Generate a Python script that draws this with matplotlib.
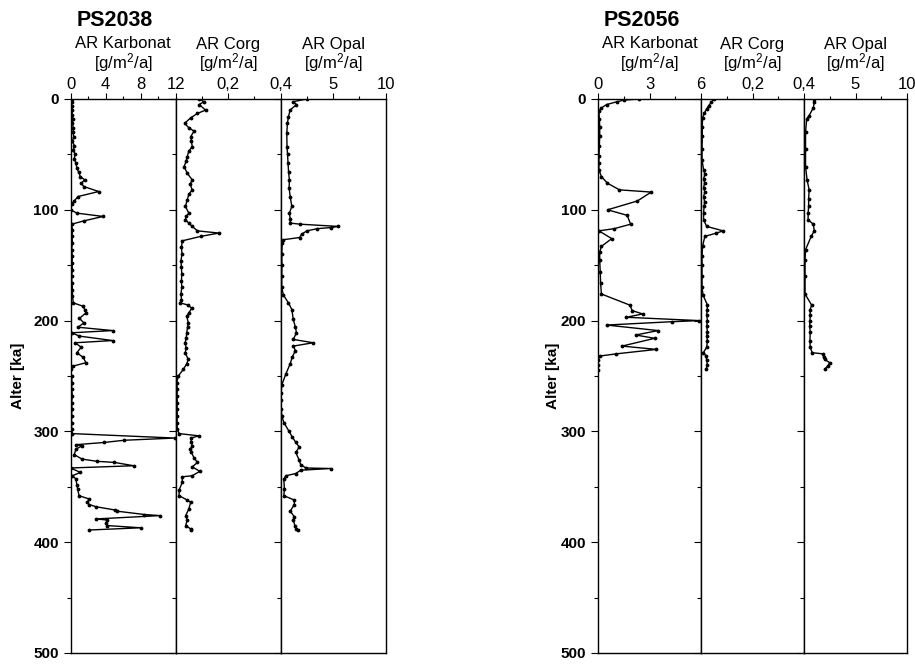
import matplotlib
matplotlib.use('Agg')
import matplotlib.pyplot as plt
import numpy as np

plt.rcParams['font.family'] = ['Liberation Sans', 'DejaVu Sans']
plt.rcParams['mathtext.default'] = 'regular'

# PS2038 - Alter [ka] und Akkumulationsraten
ps2038_karb_depth = [0, 3, 6, 10, 14, 18, 22, 26, 30, 34, 38, 42, 46, 50, 54, 58, 62, 66, 70, 73, 76, 79, 83.5, 88, 92, 95,
                     100, 103, 106, 110, 113, 118, 124, 130, 136, 142, 148, 154, 160, 166, 172, 178, 184, 187, 190, 193,
                     198, 202, 206, 209, 211, 214, 218, 220, 224, 229, 233, 238, 241, 244, 250, 256, 262, 268, 274, 280,
                     286, 292, 298, 302, 306, 308, 310, 312, 313, 316, 321, 325, 327, 328, 331, 333, 337, 340, 343, 348,
                     352, 358, 361, 364, 366, 368, 371, 372, 375, 376, 379, 380, 383, 385, 387, 389]
ps2038_karb = [0.1, 0.15, 0.1, 0.2, 0.15, 0.25, 0.2, 0.3, 0.25, 0.35, 0.2, 0.4, 0.3, 0.5, 0.4, 0.6, 0.7, 0.9, 1.1, 1.6, 1.2,
               1.5, 3.2, 0.85, 0.4, 0.1, 0.0, 0.7, 3.7, 1.5, 0.1, 0.2, 0.15, 0.2, 0.1, 0.2, 0.15, 0.2, 0.1, 0.15, 0.2, 0.2,
               0.3, 1.4, 1.6, 1.75, 1.0, 1.5, 0.85, 4.8, 0.1, 1.0, 4.8, 0.5, 1.2, 0.7, 1.4, 1.75, 0.3, 0.0, 0.1, 0.15,
               0.1, 0.2, 0.1, 0.15, 0.1, 0.1, 0.1, 0.2, 11.9, 6.1, 3.8, 0.6, 1.3, 0.6, 0.4, 1.3, 3.0, 5.0, 7.2, 0.0, 1.1,
               0.2, 0.6, 0.7, 0.8, 0.95, 2.1, 1.9, 2.1, 2.9, 5.1, 5.3, 8.4, 10.2, 2.9, 4.2, 4.0, 4.2, 8.0, 2.1]

ps2038_corg_depth = [0, 2.4, 5, 10, 13, 17, 22, 26, 29, 34, 38, 43, 47, 52, 56, 61, 67, 73, 77, 82, 86, 91, 97, 103, 106,
                     109, 112, 115, 119, 121, 124, 128, 134, 140, 146, 152, 158, 164, 170, 176, 181, 184, 186, 189, 193,
                     196, 202, 206, 211, 216, 220, 225, 229, 235, 239, 244, 250, 256, 262, 268, 274, 280, 286, 292, 298,
                     302, 304, 306, 310, 313, 316, 319, 324, 328, 332, 336, 340, 341, 346, 353, 358, 362, 364, 370, 376,
                     380, 385, 388, 389]
ps2038_corg = [0.089, 0.108, 0.089, 0.114, 0.083, 0.057, 0.034, 0.05, 0.07, 0.057, 0.06, 0.063, 0.05, 0.044, 0.04, 0.032,
               0.044, 0.063, 0.055, 0.063, 0.05, 0.044, 0.037, 0.05, 0.04, 0.037, 0.05, 0.063, 0.083, 0.165, 0.095, 0.025,
               0.022, 0.024, 0.02, 0.022, 0.023, 0.022, 0.023, 0.02, 0.022, 0.017, 0.048, 0.061, 0.05, 0.042, 0.048,
               0.045, 0.042, 0.04, 0.036, 0.04, 0.036, 0.048, 0.042, 0.029, 0.01, 0.004, 0.006, 0.005, 0.006, 0.005,
               0.006, 0.005, 0.006, 0.013, 0.089, 0.057, 0.06, 0.063, 0.055, 0.06, 0.07, 0.083, 0.063, 0.092, 0.063,
               0.025, 0.025, 0.013, 0.013, 0.044, 0.057, 0.05, 0.038, 0.044, 0.038, 0.057, 0.057]

ps2038_opal_depth = [0, 2.4, 5, 10, 16, 22, 31, 43, 50, 58, 66, 73, 80, 88, 97, 103, 108, 112, 113, 115, 116, 117, 119,
                     122, 125, 127, 130, 140, 150, 160, 170, 177, 184, 190, 199, 206, 211, 217, 220, 223, 227, 233, 239,
                     248, 258, 265, 272, 280, 286, 292, 300, 305, 310, 314, 319, 326, 330, 333, 333.5, 335, 338, 340, 343,
                     352, 358, 362, 366, 372, 377, 380, 385, 388, 389]
ps2038_opal = [2.5, 1.2, 1.5, 0.9, 0.74, 0.64, 0.58, 0.6, 0.65, 0.7, 0.75, 0.83, 0.8, 0.9, 1.06, 0.83, 0.9, 0.9, 1.86, 5.5,
               4.8, 3.5, 2.5, 2.0, 1.8, 0.26, 0.15, 0.1, 0.12, 0.1, 0.1, 0.26, 0.74, 1.06, 1.2, 1.4, 1.5, 1.2, 3.1, 1.2,
               1.4, 1.1, 0.9, 0.5, 0.1, 0.05, 0.05, 0.05, 0.1, 0.3, 0.8, 1.1, 1.44, 1.76, 1.44, 1.76, 1.9, 2.4, 4.8, 1.9,
               1.44, 0.5, 0.3, 0.35, 0.3, 1.3, 1.3, 0.9, 1.3, 1.2, 1.35, 1.5, 1.6]

# PS2056
ps2056_karb_depth = [0, 1, 2.5, 5, 8, 11, 18, 25, 33, 42, 51, 58, 64, 70, 76, 82, 84, 92, 100, 105, 113, 117, 119, 126,
                     133, 138, 145, 156, 166, 176, 186, 191, 194, 197, 200, 201, 204, 209, 213, 216, 223, 226, 230, 232,
                     236, 240, 245]
ps2056_karb = [2.4, 1.5, 1.1, 0.5, 0.2, 0.05, 0.08, 0.1, 0.1, 0.08, 0.06, 0.05, 0.05, 0.2, 0.55, 1.25, 3.1, 2.3, 0.56,
               1.7, 1.9, 0.95, 0.05, 0.8, 0.2, 0.1, 0.1, 0.13, 0.15, 0.2, 1.85, 2.0, 2.6, 1.65, 5.9, 4.3, 0.5, 3.5, 2.2,
               3.3, 1.4, 3.4, 1.07, 0.1, 0.0, 0.0, 0.0]

ps2056_corg_depth = [0, 3, 6, 9, 13, 17, 25, 33, 45, 55, 64, 68, 72, 76, 80, 84, 88, 93, 97, 103, 109, 115, 119, 121, 124,
                     133, 142, 150, 160, 170, 177, 186, 190, 195, 200, 205, 210, 214, 218, 224, 229, 232, 236, 240, 244]
ps2056_corg = [0.05, 0.04, 0.03, 0.022, 0.012, 0.006, 0.005, 0.005, 0.004, 0.004, 0.01, 0.015, 0.01, 0.014, 0.01, 0.015,
               0.01, 0.014, 0.012, 0.01, 0.01, 0.022, 0.086, 0.06, 0.015, 0.006, 0.004, 0.004, 0.004, 0.004, 0.008,
               0.025, 0.024, 0.022, 0.025, 0.022, 0.025, 0.022, 0.025, 0.022, 0.009, 0.02, 0.022, 0.025, 0.02]

ps2056_opal_depth = [0, 3, 8, 15, 18, 30, 45, 61, 73, 82, 90, 97, 103, 109, 113, 119, 124, 136, 145, 160, 176, 186, 190,
                     195, 200, 205, 210, 218, 224, 229, 230, 233, 235, 238, 241, 244]
ps2056_opal = [0.96, 1.0, 0.9, 0.5, 0.26, 0.15, 0.15, 0.15, 0.3, 0.5, 0.45, 0.45, 0.4, 0.4, 0.9, 1.0, 0.7, 0.15, 0.1, 0.1,
               0.1, 0.74, 0.6, 0.6, 0.58, 0.55, 0.6, 0.58, 0.6, 0.8, 1.85, 1.9, 2.0, 2.5, 2.3, 2.0]

y_major = [0, 100, 200, 300, 400, 500]
y_minor = [50, 150, 250, 350, 450]


def draw_panel(ax, depth, vals, xmax, major, labels, minor, first):
    ax.plot(vals, depth, color='black', lw=1.0, marker='.', ms=3.5)
    ax.set_xlim(0, xmax)
    ax.set_ylim(500, 0)
    ax.xaxis.tick_top()
    ax.set_xticks(major)
    ax.set_xticklabels(labels)
    ax.set_xticks(minor, minor=True)
    ax.set_yticks(y_major)
    ax.set_yticks(y_minor, minor=True)
    ax.tick_params(axis='x', which='major', length=4, width=0.8, pad=1, labelsize=12)
    ax.tick_params(axis='x', which='minor', length=2, width=0.8)
    ax.tick_params(axis='y', which='major', length=5, width=0.8, labelsize=11)
    ax.tick_params(axis='y', which='minor', length=3, width=0.8)
    if first:
        for t in ax.get_yticklabels():
            t.set_fontweight('bold')
    else:
        ax.set_yticklabels([])
    for s in ax.spines.values():
        s.set_linewidth(1.0)


fig = plt.figure(figsize=(9.15, 6.65), dpi=100)

groups = [
    ('PS2038', 70.7, 105.0,
     [(ps2038_karb_depth, ps2038_karb, 12, [0, 4, 8, 12], ['0', '4', '8', '12'], [2, 6, 10]),
      (ps2038_corg_depth, ps2038_corg, 0.4, [0.2, 0.4], ['0,2', '0,4'], [0.1, 0.3]),
      (ps2038_opal_depth, ps2038_opal, 10, [5, 10], ['5', '10'], [2.5, 7.5])], 18),
    ('PS2056', 598.0, 103.0,
     [(ps2056_karb_depth, ps2056_karb, 6, [0, 3, 6], ['0', '3', '6'], [1.5, 4.5]),
      (ps2056_corg_depth, ps2056_corg, 0.4, [0.2, 0.4], ['0,2', '0,4'], [0.1, 0.3]),
      (ps2056_opal_depth, ps2056_opal, 10, [5, 10], ['5', '10'], [2.5, 7.5])], 553),
]
names = ['AR Karbonat', 'AR Corg', 'AR Opal']

W, H = 915.0, 665.0
top_px, bot_px = 99.0, 653.0

for title, x0, pw, panels, ylab_x in groups:
    for i, (d, v, xmax, major, labels, minor) in enumerate(panels):
        left = (x0 + i * pw) / W
        ax = fig.add_axes([left, 1 - bot_px / H, pw / W, (bot_px - top_px) / H])
        draw_panel(ax, d, v, xmax, major, labels, minor, i == 0)
        cx = (x0 + (i + 0.5) * pw) / W
        fig.text(cx, 1 - 44 / H, names[i], ha='center', va='center', fontsize=12)
        fig.text(cx, 1 - 63 / H, '[g/m$^2$/a]', ha='center', va='center', fontsize=12)
    fig.text((x0 + 6) / W, 1 - 20 / H, title, ha='left', va='center', fontsize=15.5, fontweight='bold')
    fig.text(ylab_x / W, 1 - (top_px + bot_px) / 2 / H, 'Alter [ka]', rotation=90,
             ha='center', va='center', fontsize=11, fontweight='bold')

plt.savefig('out.png', dpi=100)
